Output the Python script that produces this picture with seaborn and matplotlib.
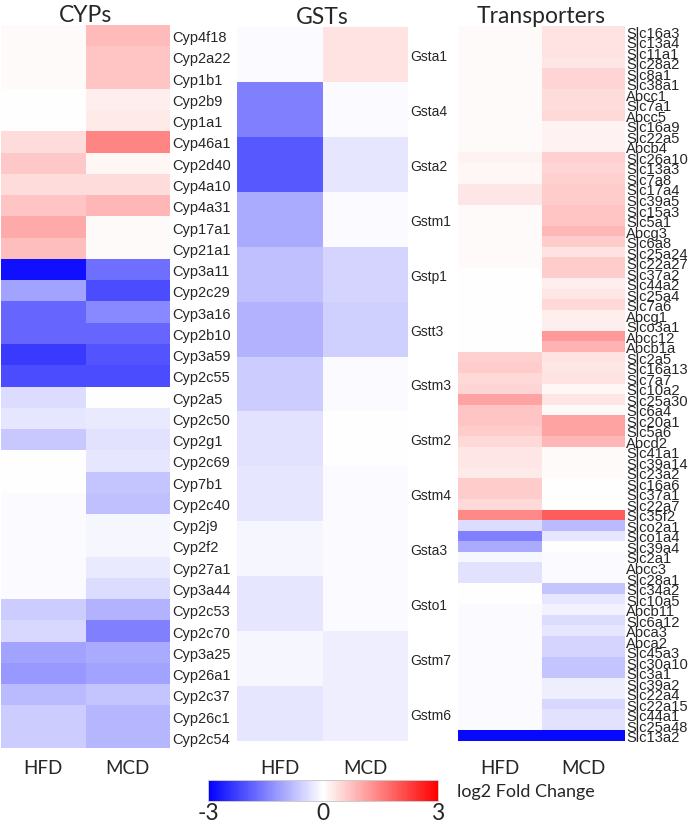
import numpy as np
import pandas as pd
import matplotlib
matplotlib.use("Agg")
import matplotlib.pyplot as plt
import seaborn as sns

conditions = ["HFD", "MCD"]

cyp_genes = ["Cyp4f18", "Cyp2a22", "Cyp1b1", "Cyp2b9", "Cyp1a1", "Cyp46a1", "Cyp2d40",
             "Cyp4a10", "Cyp4a31", "Cyp17a1", "Cyp21a1", "Cyp3a11", "Cyp2c29", "Cyp3a16",
             "Cyp2b10", "Cyp3a59", "Cyp2c55", "Cyp2a5", "Cyp2c50", "Cyp2g1", "Cyp2c69",
             "Cyp7b1", "Cyp2c40", "Cyp2j9", "Cyp2f2", "Cyp27a1", "Cyp3a44", "Cyp2c53",
             "Cyp2c70", "Cyp3a25", "Cyp26a1", "Cyp2c37", "Cyp26c1", "Cyp2c54"]
cyp_hfd = [0.05, 0.05, 0.05, 0.0, 0.0, 0.4, 0.65, 0.4, 0.7, 1.0, 0.75, -2.8, -1.1, -1.8,
           -1.8, -2.3, -2.1, -0.4, -0.3, -0.65, -0.02, -0.02, -0.05, -0.05, -0.05, -0.05,
           -0.05, -0.6, -0.45, -1.1, -1.2, -0.8, -0.6, -0.6]
cyp_mcd = [0.8, 0.7, 0.7, 0.2, 0.25, 1.45, 0.1, 0.4, 0.85, 0.05, 0.05, -1.7, -2.1, -1.4,
           -1.8, -2.0, -2.1, 0.0, -0.25, -0.35, -0.3, -0.7, -0.75, -0.1, -0.1, -0.25,
           -0.4, -0.9, -1.5, -1.0, -1.1, -0.7, -0.85, -0.85]

gst_genes = ["Gsta1", "Gsta4", "Gsta2", "Gstm1", "Gstp1", "Gstt3", "Gstm3", "Gstm2",
             "Gstm4", "Gsta3", "Gsto1", "Gstm7", "Gstm6"]
gst_hfd = [-0.05, -1.5, -1.95, -1.0, -0.75, -0.9, -0.6, -0.35, -0.3, -0.1, -0.3, -0.1, -0.3]
gst_mcd = [0.35, -0.05, -0.3, -0.05, -0.5, -0.55, -0.05, 0.0, -0.05, -0.05, -0.07, -0.2, -0.2]

tr_genes = ["Slc16a3", "Slc13a4", "Slc11a1", "Slc28a2", "Slc8a1", "Slc38a1", "Abcc1",
            "Slc7a1", "Abcc5", "Slc16a9", "Slc22a5", "Abcb4", "Slc26a10", "Slc13a3",
            "Slc7a8", "Slc17a4", "Slc39a5", "Slc15a3", "Slc5a1", "Abcg3", "Slc6a8",
            "Slc25a24", "Slc22a27", "Slc37a2", "Slc44a2", "Slc25a4", "Slc7a6", "Abcg1",
            "Slco3a1", "Abcc12", "Abcb1a", "Slc2a5", "Slc16a13", "Slc7a7", "Slc10a2",
            "Slc25a30", "Slc6a4", "Slc20a1", "Slc5a6", "Abcd2", "Slc41a1", "Slc39a14",
            "Slc23a2", "Slc16a6", "Slc37a1", "Slc22a7", "Slc35f2", "Slco2a1", "Slco1a4",
            "Slc39a4", "Slc2a1", "Abcc3", "Slc28a1", "Slc34a2", "Slc10a5", "Abcb11",
            "Slc6a12", "Abca3", "Abca2", "Slc45a3", "Slc30a10", "Slc3a1", "Slc39a2",
            "Slc22a4", "Slc22a15", "Slc44a1", "Slc25a48", "Slc13a2"]
tr_hfd = [0.05, 0.05, 0.05, 0.05, 0.05, 0.05, 0.05, 0.05, 0.05, 0.05, 0.05, 0.05,
          0.15, 0.1, 0.1, 0.3, 0.3, 0.05, 0.05, 0.05, 0.05, 0.05, 0.05, 0.02,
          0.02, 0.02, 0.02, 0.02, 0.02, 0.02, 0.02, 0.55, 0.6, 0.45, 0.5,
          1.1, 0.7, 0.7, 0.6, 0.45, 0.3, 0.3, 0.25, 0.6, 0.6, 0.45, 1.4,
          -0.4, -1.5, -1.0, -0.1, -0.35, -0.35, 0.0, -0.02, -0.05, -0.05, -0.05,
          -0.05, -0.05, -0.05, -0.05, -0.05, -0.05, -0.05, -0.05, -0.05, -2.9]
tr_mcd = [0.35, 0.35, 0.35, 0.3, 0.5, 0.5, 0.4, 0.4, 0.45, 0.15, 0.15, 0.15,
          0.55, 0.5, 0.55, 0.6, 0.6, 0.7, 0.7, 0.85, 0.6, 0.35, 0.6, 0.6,
          0.2, 0.3, 0.45, 0.2, 0.2, 1.2, 0.9, 0.35, 0.3, 0.35, 0.1,
          0.3, 0.05, 1.1, 1.1, 0.85, 0.05, 0.05, 0.05, 0.02, 0.02, 0.02, 1.9,
          -0.8, -0.3, 0.0, -0.05, -0.05, -0.05, -0.7, -0.3, -0.15, -0.4, -0.3,
          -0.5, -0.5, -0.7, -0.7, -0.2, -0.2, -0.45, -0.35, -0.35, -2.9]

sns.set_style("white")
title_font = "Lato"
label_font = "Liberation Sans"

fig = plt.figure(figsize=(6.9, 8.28), dpi=100)

W, H = 690.0, 828.0
def px_axes(x0, y0, x1, y1):
    return fig.add_axes([x0 / W, 1 - y1 / H, (x1 - x0) / W, (y1 - y0) / H])

panels = [
    ("CYPs", cyp_genes, cyp_hfd, cyp_mcd, (1, 26, 170, 749), 10.5, 8, 1.5),
    ("GSTs", gst_genes, gst_hfd, gst_mcd, (237, 28, 408, 742), 10, 13, 1.5),
    ("Transporters", tr_genes, tr_hfd, tr_mcd, (458, 27, 625, 742), 10.6, 13, 1),
]

cax = px_axes(208, 781, 438, 802)

for i, (title, genes, hfd, mcd, box, fs, xpad, ypad) in enumerate(panels):
    ax = px_axes(*box)
    df = pd.DataFrame({"HFD": hfd, "MCD": mcd}, index=genes)
    sns.heatmap(df, ax=ax, cmap="bwr", vmin=-3, vmax=3,
                cbar=(i == 0), cbar_ax=cax if i == 0 else None,
                cbar_kws={"orientation": "horizontal"} if i == 0 else None,
                yticklabels=True, xticklabels=True)
    ax.yaxis.tick_right()
    ax.set_yticklabels(genes, rotation=0, fontsize=fs, family=label_font)
    ax.set_xticklabels(conditions, rotation=0, fontsize=13.5, family=title_font)
    ax.tick_params(axis="y", length=0, pad=ypad)
    ax.tick_params(axis="x", length=0, pad=xpad)
    ax.set_xlabel("")
    ax.set_ylabel("")
    ax.set_title(title, fontsize=16.5, family=title_font, pad=3)

cax.set_xticks([-3, -2, -1, 0, 1, 2, 3])
cax.set_xticklabels(["-3", "", "", "0", "", "", "3"], fontsize=16.5, family=title_font)
cax.tick_params(axis="x", direction="in", length=2, width=0.6, pad=1, color="#555555")
for s in cax.spines.values():
    s.set_visible(True)
    s.set_color("#cccccc")
    s.set_linewidth(0.6)

fig.text(457 / W, 1 - 792 / H, "log2 Fold Change", fontsize=13, family=title_font,
         ha="left", va="center")

fig.savefig("out.png", dpi=100)
